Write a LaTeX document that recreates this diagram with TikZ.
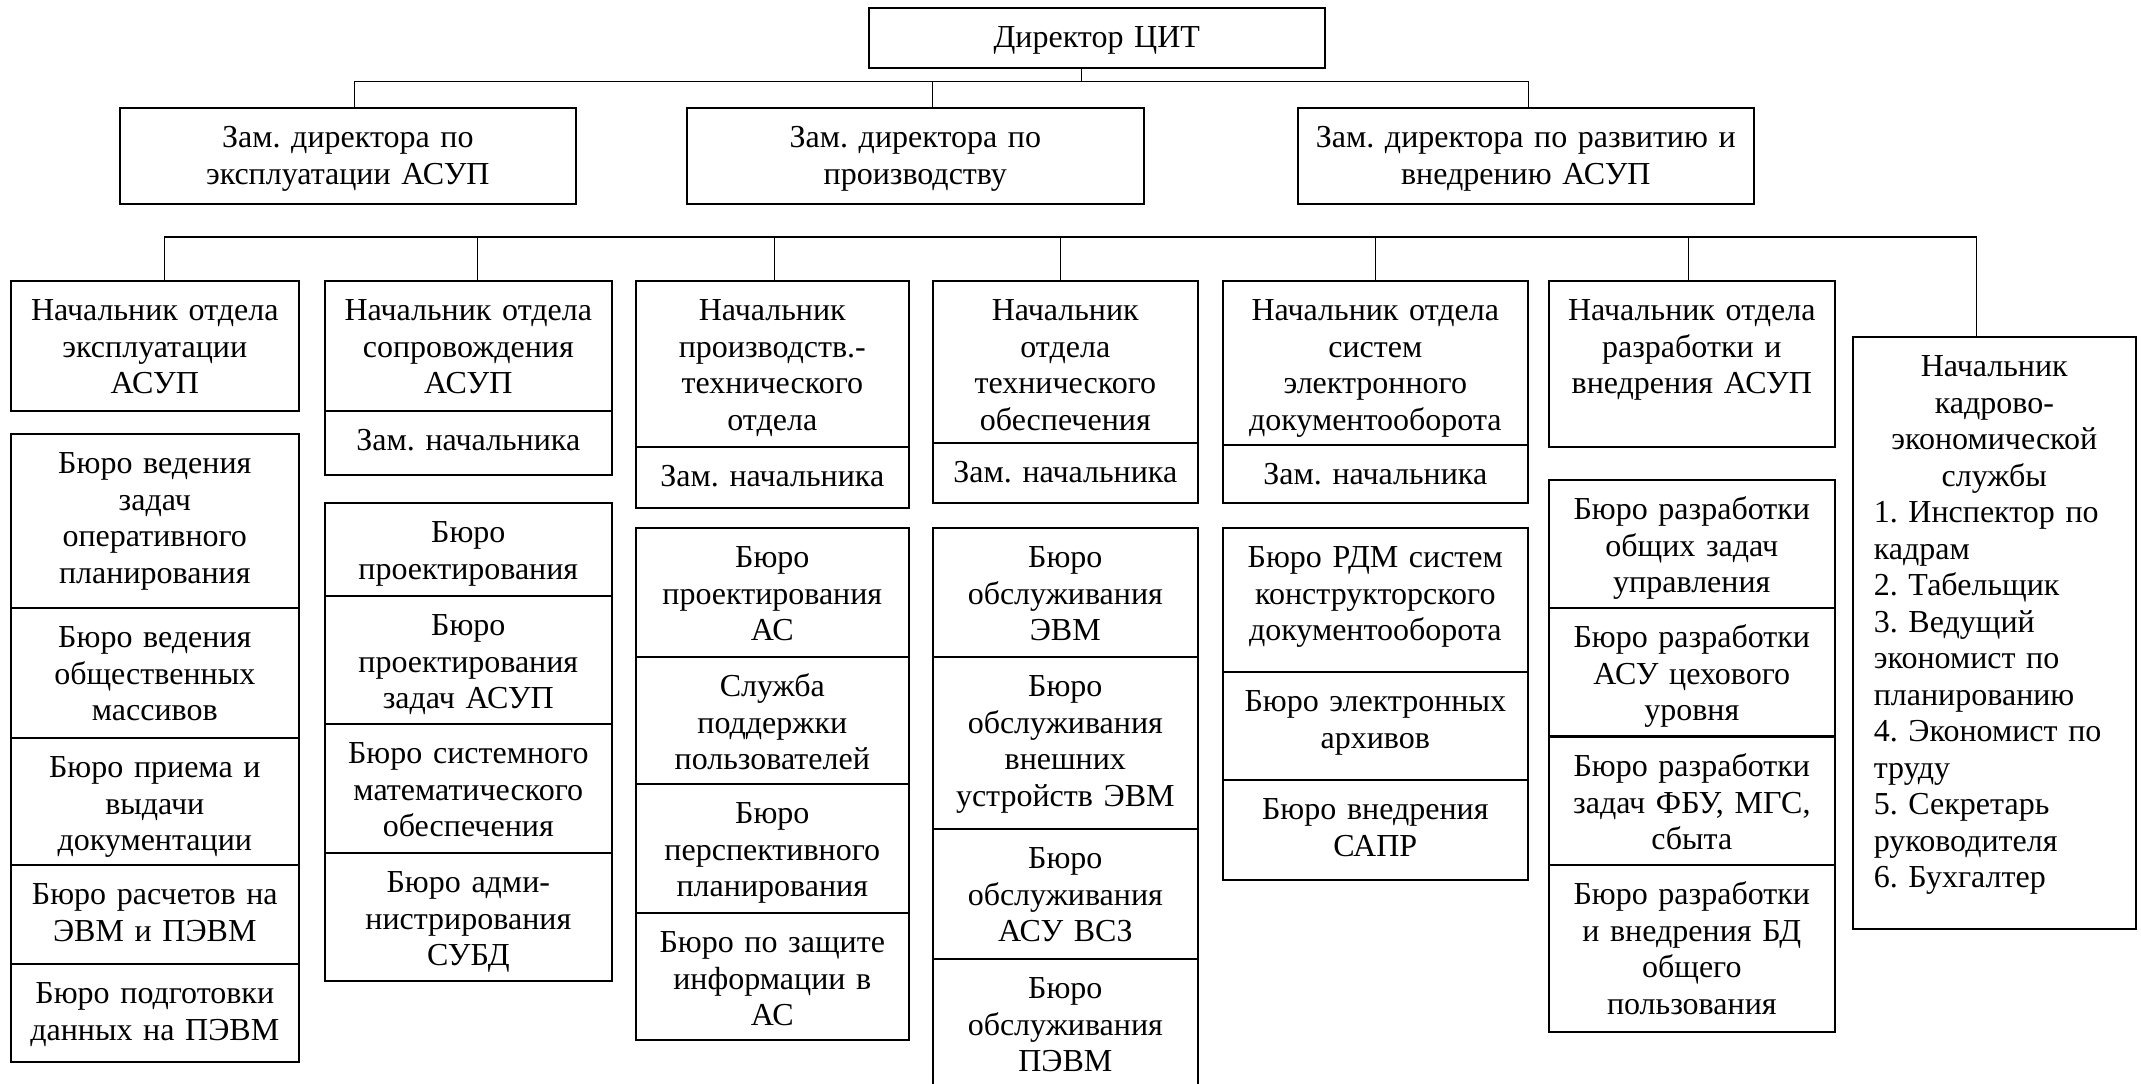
\documentclass[tikz,border=0pt]{standalone}
\usepackage{fontspec}
\setmainfont{Liberation Serif}
\frenchspacing

\begin{document}
\begin{tikzpicture}[x=0.5pt,y=-0.5pt,
  unit/.style={draw,line width=0.8pt,anchor=north west,inner sep=0pt,
    align=center,text height=20pt,font=\fontsize{16}{18.25}\selectfont},
  link/.style={line width=0.6pt}]
  \path[fill=white,use as bounding box] (0,0) rectangle (2141,1083);
  \clip (0,0) rectangle (2141,1083);

  % руководство
  \node[unit,text width=228pt,text depth=10pt] (dir) at (868,7) {Директор ЦИТ};
  \node[unit,text width=228pt,text depth=28pt] (dep1) at (119,107) {Зам. директора по\\эксплуатации АСУП};
  \node[unit,text width=228.5pt,text depth=28pt] (dep2) at (686,107) {Зам. директора по\\производству};
  \node[unit,text width=228pt,text depth=28pt] (dep3) at (1297,107) {Зам. директора по развитию и\\внедрению АСУП};

  % начальники отделов
  \node[unit,text width=144pt,text depth=45pt] (h1) at (10,280) {Начальник отдела\\эксплуатации\\АСУП};
  \node[unit,text width=143.5pt,text depth=45pt] (h2) at (324,280) {Начальник отдела\\сопровождения\\АСУП};
  \node[unit,text width=136.5pt,text depth=63pt] (h3) at (635,280) {Начальник\\производств.-\\технического\\отдела};
  \node[unit,text width=132.5pt,text depth=61pt] (h4) at (932,280) {Начальник\\отдела\\технического\\обеспечения};
  \node[unit,text width=152.5pt,text depth=62pt] (h5) at (1222,280) {Начальник отдела\\систем\\электронного\\документооборота};
  \node[unit,text width=143pt,text depth=63pt] (h6) at (1548,280) {Начальник отдела\\разработки и\\внедрения АСУП};
  \node[unit,align=left,inner xsep=10.5pt,text width=120.5pt,text depth=276pt] (h7) at (1852,336)
    {{\centering Начальник\\кадрово-\\экономической\\службы\par}1. Инспектор по\\кадрам\\2. Табельщик\\3. Ведущий\\экономист по\\планированию\\4. Экономист по\\труду\\5. Секретарь\\руководителя\\6. Бухгалтер};

  % заместители
  \node[unit,text width=143.5pt,text depth=12pt] (z2) at (324,410) {Зам. начальника};
  \node[unit,text width=136.5pt,text depth=10.5pt] (z3) at (635,446) {Зам. начальника};
  \node[unit,text width=132.5pt,text depth=10pt] (z4) at (932,442) {Зам. начальника};
  \node[unit,text width=152.5pt,text depth=9pt] (z5) at (1222,444) {Зам. начальника};

  % бюро: эксплуатация
  \node[unit,text width=144pt,text depth=67pt] (b11) at (10,433) {Бюро ведения\\задач\\оперативного\\планирования};
  \node[unit,text width=144pt,text depth=45pt] (b12) at (10,607) {Бюро ведения\\общественных\\массивов};
  \node[unit,text width=144pt,text depth=43.5pt] (b13) at (10,737) {Бюро приема и\\выдачи\\документации};
  \node[unit,text width=144pt,text depth=29.5pt] (b14) at (10,864) {Бюро расчетов на\\ЭВМ и ПЭВМ};
  \node[unit,text width=144pt,text depth=29pt] (b15) at (10,963) {Бюро подготовки\\данных на ПЭВМ};

  % бюро: сопровождение
  \node[unit,text width=143.5pt,text depth=26.5pt] (b21) at (324,502) {Бюро\\проектирования};
  \node[unit,text width=143.5pt,text depth=44pt] (b22) at (324,595) {Бюро\\проектирования\\задач АСУП};
  \node[unit,text width=143.5pt,text depth=44.5pt] (b23) at (324,723) {Бюро системного\\математического\\обеспечения};
  \node[unit,text width=143.5pt,text depth=44pt] (b24) at (324,852) {Бюро адми-\\нистрирования\\СУБД};

  % бюро: ПТО
  \node[unit,text width=136.5pt,text depth=44.5pt] (b31) at (635,527) {Бюро\\проектирования\\АС};
  \node[unit,text width=136.5pt,text depth=43.5pt] (b32) at (635,656) {Служба\\поддержки\\пользователей};
  \node[unit,text width=136.5pt,text depth=44.5pt] (b33) at (635,783) {Бюро\\перспективного\\планирования};
  \node[unit,text width=136.5pt,text depth=43.5pt] (b34) at (635,912) {Бюро по защите\\информации в\\АС};

  % бюро: техническое обеспечение
  \node[unit,text width=132.5pt,text depth=44.5pt] (b41) at (932,527) {Бюро\\обслуживания\\ЭВМ};
  \node[unit,text width=132.5pt,text depth=66pt] (b42) at (932,656) {Бюро\\обслуживания\\внешних\\устройств ЭВМ};
  \node[unit,text width=132.5pt,text depth=45pt] (b43) at (932,828) {Бюро\\обслуживания\\АСУ ВСЗ};
  \node[unit,text width=132.5pt,text depth=61pt] (b44) at (932,958) {Бюро\\обслуживания\\ПЭВМ};

  % бюро: СЭД
  \node[unit,text width=152.5pt,text depth=52pt] (b51) at (1222,527) {Бюро РДМ систем\\конструкторского\\документооборота};
  \node[unit,text width=152.5pt,text depth=34pt] (b52) at (1222,671) {Бюро электронных\\архивов};
  \node[unit,text width=152.5pt,text depth=30pt] (b53) at (1222,779) {Бюро внедрения\\САПР};

  % бюро: разработка и внедрение
  \node[unit,text width=143pt,text depth=44pt] (b61) at (1548,479) {Бюро разработки\\общих задач\\управления};
  \node[unit,text width=143pt,text depth=44pt] (b62) at (1548,607) {Бюро разработки\\АСУ цехового\\уровня};
  \node[unit,text width=143pt,text depth=44pt] (b63) at (1548,736) {Бюро разработки\\задач ФБУ, МГС,\\сбыта};
  \node[unit,text width=143pt,text depth=63.5pt] (b64) at (1548,864) {Бюро разработки\\и внедрения БД\\общего\\пользования};

  % шины
  \coordinate (busA) at (0,81.5);
  \coordinate (busB) at (0,237);
  \coordinate (dirfoot) at ([xshift=-7.5pt]dir.south);
  \coordinate (d1) at ([xshift=3.25pt]dep1.north);
  \coordinate (d2) at ([xshift=8.5pt]dep2.north);
  \coordinate (d3) at ([xshift=1.3pt]dep3.north);
  \coordinate (t1) at ([xshift=5pt]h1.north);
  \coordinate (t2) at ([xshift=4.75pt]h2.north);
  \coordinate (t3) at ([xshift=1pt]h3.north);
  \coordinate (t4) at ([xshift=-2.4pt]h4.north);
  \coordinate (t5) at (h5.north);
  \coordinate (t6) at ([xshift=-1.75pt]h6.north);
  \coordinate (t7) at ([xshift=-9pt]h7.north);

  \draw[link] (dirfoot) -- (dirfoot |- busA);
  \draw[link] (d1) |- (busA -| d3) -- (d3);
  \draw[link] (d2) -- (d2 |- busA);
  \draw[link] (t1) |- (busB -| t7) -- (t7);
  \foreach \i in {2,...,6}
    \draw[link] (t\i) -- (t\i |- busB);
\end{tikzpicture}
\end{document}
